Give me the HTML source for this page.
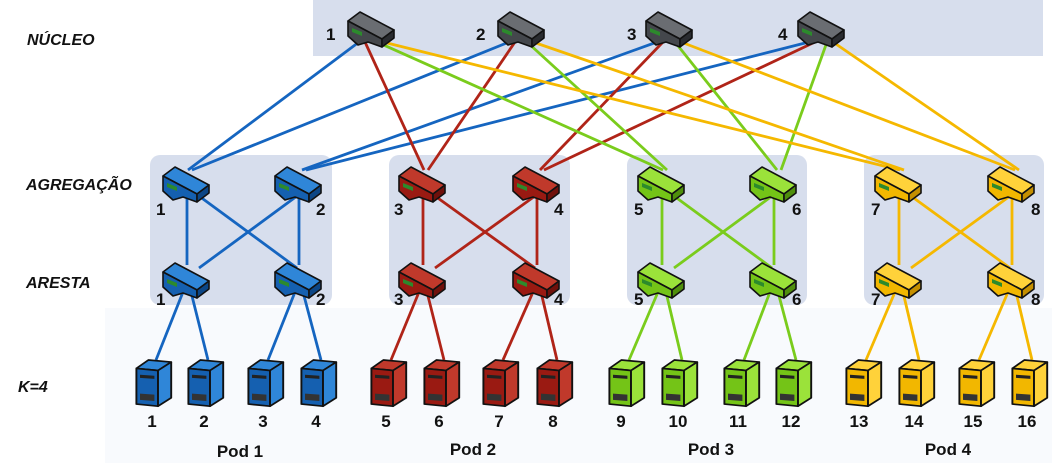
<!DOCTYPE html>
<html><head><meta charset="utf-8">
<style>
html,body{margin:0;padding:0;background:#fff;}
svg{display:block;}
text{font-family:"Liberation Sans",sans-serif;font-weight:bold;fill:#111;}
.lbl{font-style:italic;font-size:16px;}
.n{font-size:17px;}
.pod{font-size:17px;}
</style></head>
<body>
<svg id="s" width="1052" height="463" viewBox="0 0 1052 463" xmlns="http://www.w3.org/2000/svg">
<rect x="105" y="308" width="947" height="155" fill="#f8fafd"/>
<rect x="313" y="0" width="730" height="56" fill="#d7deed"/>
<rect x="150" y="155" width="182" height="150" rx="10" fill="#d7deed"/>
<rect x="389" y="155" width="181" height="150" rx="10" fill="#d7deed"/>
<rect x="627" y="155" width="180" height="150" rx="10" fill="#d7deed"/>
<rect x="864" y="155" width="180" height="150" rx="10" fill="#d7deed"/>
<g id="lines" stroke-width="2.8" fill="none"></g>
<g id="icons"></g>
<text class="lbl" x="27" y="45">NÚCLEO</text>
<text class="lbl" x="26" y="190">AGREGAÇÃO</text>
<text class="lbl" x="26" y="288">ARESTA</text>
<text class="lbl" x="18" y="392">K=4</text>
<text class="n" x="326" y="40">1</text><text class="n" x="476" y="40">2</text><text class="n" x="627" y="40">3</text><text class="n" x="778" y="40">4</text>
<text class="n" x="156" y="215">1</text><text class="n" x="316" y="215">2</text>
<text class="n" x="156" y="305">1</text><text class="n" x="316" y="305">2</text>
<text class="n" x="394" y="215">3</text><text class="n" x="554" y="215">4</text>
<text class="n" x="394" y="305">3</text><text class="n" x="554" y="305">4</text>
<text class="n" x="634" y="215">5</text><text class="n" x="792" y="215">6</text>
<text class="n" x="634" y="305">5</text><text class="n" x="792" y="305">6</text>
<text class="n" x="871" y="215">7</text><text class="n" x="1031" y="215">8</text>
<text class="n" x="871" y="305">7</text><text class="n" x="1031" y="305">8</text>
<g class="n" text-anchor="middle">
<text x="152" y="427">1</text><text x="204" y="427">2</text><text x="263" y="427">3</text><text x="316" y="427">4</text>
<text x="386" y="427">5</text><text x="439" y="427">6</text><text x="499" y="427">7</text><text x="553" y="427">8</text>
<text x="621" y="427">9</text><text x="678" y="427">10</text><text x="738" y="427">11</text><text x="791" y="427">12</text>
<text x="859" y="427">13</text><text x="914" y="427">14</text><text x="973" y="427">15</text><text x="1027" y="427">16</text>
</g>
<g class="pod" text-anchor="middle">
<text x="240" y="457">Pod 1</text><text x="473" y="455">Pod 2</text><text x="711" y="455">Pod 3</text><text x="948" y="455">Pod 4</text>
</g>
</svg>
<script>
var NS="http://www.w3.org/2000/svg";
var L=document.getElementById('lines'),I=document.getElementById('icons');
function ln(x1,y1,x2,y2,c){var e=document.createElementNS(NS,'line');e.setAttribute('x1',x1);e.setAttribute('y1',y1);e.setAttribute('x2',x2);e.setAttribute('y2',y2);e.setAttribute('stroke',c);L.appendChild(e);}
function poly(pts,fill,g){var e=document.createElementNS(NS,'polygon');e.setAttribute('points',pts);e.setAttribute('fill',fill);e.setAttribute('stroke','#111');e.setAttribute('stroke-width','1.6');e.setAttribute('stroke-linejoin','round');g.appendChild(e);return e;}
var C={b:['#2f86d8','#1560b0','#0c4686'],r:['#c0392b','#9a1a12','#6f100b'],g:['#9be23a','#74c417','#4f8f0c'],y:['#ffd23a','#f2b700','#c48f00'],k:['#6a6d72','#44474c','#2a2c30']};
function sw(cx,cy,k){var c=C[k];var g=document.createElementNS(NS,'g');g.setAttribute('transform','translate('+cx+','+cy+')');
poly('-22,-7 -10,-16 24,2 12,11',c[0],g);
poly('-22,-7 12,11 12,19 -2,14 -12,17 -22,8',c[1],g);
poly('12,11 24,2 24,10 12,19',c[2],g);
var s=poly('-18,0 -8,4 -8,8 -18,4','#2c8a2c',g);s.setAttribute('stroke','none');
I.appendChild(g);}
function sv(cx,cy,k){var c=C[k];var g=document.createElementNS(NS,'g');g.setAttribute('transform','translate('+cx+','+cy+') scale(1.2,1.05)');
poly('-13,-12 -3,-20 16,-18 5,-10',c[0],g);
poly('-13,-12 5,-10 5,24 -13,22',c[1],g);
poly('5,-10 16,-18 16,16 5,24',c[0],g);
var r=poly('-10,-6 2,-5 2,-2 -10,-3','#222',g);r.setAttribute('stroke','none');
r=poly('-10,12 2,13 2,19 -10,18','#333',g);r.setAttribute('stroke','none');
I.appendChild(g);}
var core=[[370,28],[520,28],[668,28],[820,28]];
var aggX=[[185,297],[421,535],[660,772],[897,1010]];
var ks=['b','r','g','y'];var cols={b:'#1565c0',r:'#b02418',g:'#7acc1c',y:'#f5b800'};
for(var p=0;p<4;p++){var col=cols[ks[p]];
 var off=[-6,0,12,18][p];
 ln(core[0][0]-5+off,core[0][1]+14,aggX[p][0]+3,170,col);
 ln(core[1][0]-5+off,core[1][1]+14,aggX[p][0]+7,170,col);
 ln(core[2][0]-5+off,core[2][1]+14,aggX[p][1]+5,170,col);
 ln(core[3][0]-5+off,core[3][1]+14,aggX[p][1]+9,170,col);
}
var sx=[[152,204,264,317],[387,440,499,553],[625,678,740,792],[862,915,975,1028]];
for(var p=0;p<4;p++){var col=cols[ks[p]],a=aggX[p];
 ln(a[0]+2,195,a[0]+2,265,col);ln(a[1]+2,195,a[1]+2,265,col);
 ln(a[0]+14,196,a[1],268,col);ln(a[1],196,a[0]+14,268,col);
 for(var j=0;j<4;j++){var e=a[j<2?0:1];ln(e+(j%2?6:-2),292,sx[p][j]+4,360,col);}
}
for(var p=0;p<4;p++){var a=aggX[p];
 sw(a[0],183,ks[p]);sw(a[1],183,ks[p]);sw(a[0],279,ks[p]);sw(a[1],279,ks[p]);
 for(var j=0;j<4;j++)sv(sx[p][j],381,ks[p]);}
for(var i=0;i<4;i++)sw(core[i][0],core[i][1],'k');
</script>
</body></html>
